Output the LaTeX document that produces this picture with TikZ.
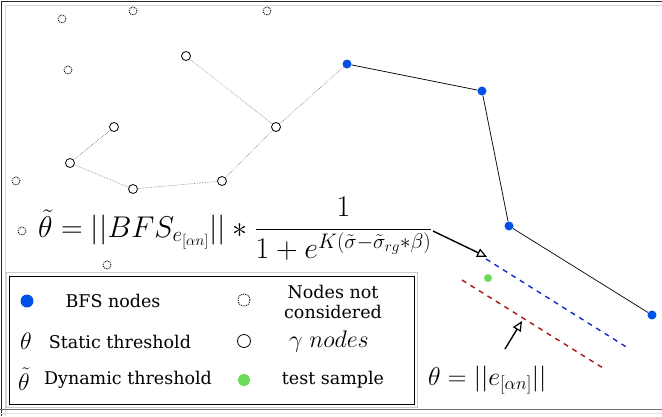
\RequirePackage{fix-cm}
\documentclass[tikz,border=0pt]{standalone}
\usepackage{fontspec}
\usepackage{amsmath}
\newfontfamily\legfont{DejaVu Serif}
\usetikzlibrary{arrows.meta}
\definecolor{bfsblue}{RGB}{0,82,230}
\definecolor{testgreen}{RGB}{105,220,85}
\definecolor{lineblue}{RGB}{20,40,200}
\definecolor{linered}{RGB}{170,20,20}
\begin{document}
\begin{tikzpicture}[x=1pt,y=-1pt,
  nc/.style={circle, draw, densely dotted, line width=0.9pt, minimum size=#1, inner sep=0pt},
  nc/.default=8pt,
  gam/.style={circle, draw, line width=0.8pt, fill=white, minimum size=#1, inner sep=0pt},
  gam/.default=9pt,
  bfs/.style={circle, fill=bfsblue, minimum size=#1, inner sep=0pt},
  bfs/.default=9pt,
  tst/.style={circle, fill=testgreen, minimum size=#1, inner sep=0pt},
  tst/.default=8pt,
  gedge/.style={gray, line width=0.6pt, densely dotted},
  bedge/.style={black, line width=0.7pt},
  thr/.style={dashed, dash pattern=on 5pt off 5pt, line width=1.4pt},
  pointer/.style={-{Triangle[open, length=10pt, width=9pt, line width=1.2pt]}, line width=1.4pt},
  leg/.style={font=\legfont\fontsize{17.5}{21}\selectfont, inner sep=0pt, align=center},
  legm/.style={font=\fontsize{24}{26}\selectfont, inner sep=0pt},
  big/.style={font=\fontsize{26}{30}\selectfont, inner sep=0pt},
  bigger/.style={font=\fontsize{30}{34}\selectfont, inner sep=0pt}
]
\useasboundingbox (0,0) rectangle (662,416);
% outer frame
\draw[black!85, line width=1.6pt] (1.5,416) -- (1.5,1.5) -- (662,1.5);
\draw[black!15, line width=1pt] (5,416) -- (5,5) -- (662,5);
\draw[black!55, line width=1.6pt] (0,409.5) -- (662,409.5);
\draw[black!12, line width=0.8pt] (0,413) -- (662,413);

% nodes not considered
\node[nc] (n1) at (62,19) {};
\node[nc] (n2) at (133,11) {};
\node[nc] (n3) at (267,11) {};
\node[nc] (n4) at (68,70) {};
\node[nc] (n5) at (16,181) {};
\node[nc] (n6) at (22,231) {};
\node[nc] (n7) at (107,265) {};

% BFS nodes
\node[bfs] (b1) at (347,64) {};
\node[bfs] (b2) at (482,91) {};
\node[bfs] (b3) at (509,226) {};
\node[bfs] (b4) at (652,315) {};

% gamma nodes
\node[gam] (g1) at (186,56) {};
\node[gam] (g2) at (276,127) {};
\node[gam] (g3) at (114,127) {};
\node[gam] (g4) at (70,163) {};
\node[gam] (g5) at (133,189) {};
\node[gam] (g6) at (222,181) {};

\draw[gedge] (g1) -- (g2);
\draw[gedge] (g2) -- (b1);
\draw[gedge] (g2) -- (g6);
\draw[gedge] (g6) -- (g5);
\draw[gedge] (g5) -- (g4);
\draw[gedge] (g4) -- (g3);

\draw[bedge] (b1) -- (b2);
\draw[bedge] (b2) -- (b3);
\draw[bedge] (b3) -- (b4);

% thresholds
\coordinate (bl1) at (486,259);
\coordinate (bl2) at (628,348);
\coordinate (rl1) at (462,280);
\coordinate (rl2) at (603,368);
\draw[thr, lineblue] (bl1) -- (bl2);
\draw[thr, linered] (rl1) -- (rl2);
\node[tst] (t1) at (488,278) {};

% formulas
\node[bigger, anchor=base west] (dyn) at (38,237) {$\tilde{\theta} = ||BFS_{e_{[\alpha n]}}|| * \dfrac{1}{1+e^{K(\tilde{\sigma}-\tilde{\sigma}_{rg}*\beta)}}$};
\node[big, anchor=base west] (stat) at (428,385) {$\theta = ||e_{[\alpha n]}||$};

\coordinate (a1s) at (433,231);
\coordinate (a1e) at (487,257);
\coordinate (a2s) at (505,349);
\coordinate (a2e) at (522,321);
\draw[pointer] (a1s) -- (a1e);
\draw[pointer] (a2s) -- (a2e);

% legend
\draw[black!20, line width=0.8pt] (6,272) rectangle (417,407);
\node[draw, line width=1pt, minimum width=405pt, minimum height=128pt, inner sep=0pt] (legend) at (211.5,340) {};

\node[bfs=13pt] (lb) at (27,301) {};
\node[leg] (lbt) at (113,301) {BFS nodes};
\node[legm] (lth) at (26,341) {$\theta$};
\node[leg] (ltht) at (120,342) {Static threshold};
\node[legm] (ldth) at (24,379) {$\tilde{\theta}$};
\node[leg] (ldtht) at (128,380) {Dynamic threshold};
\node[nc=12pt] (lnc) at (244,300) {};
\node[leg, font=\legfont\fontsize{17.5}{20}\selectfont] (lnct) at (333,302) {Nodes not\\considered};
\node[gam=13pt] (lg) at (244,341) {};
\node[legm, font=\fontsize{24}{26}\selectfont] (lgt) at (329,341) {$\gamma\;nodes$};
\node[tst=12pt] (lt) at (244,380) {};
\node[leg] (ltt) at (333,380) {test sample};
\end{tikzpicture}
\end{document}
